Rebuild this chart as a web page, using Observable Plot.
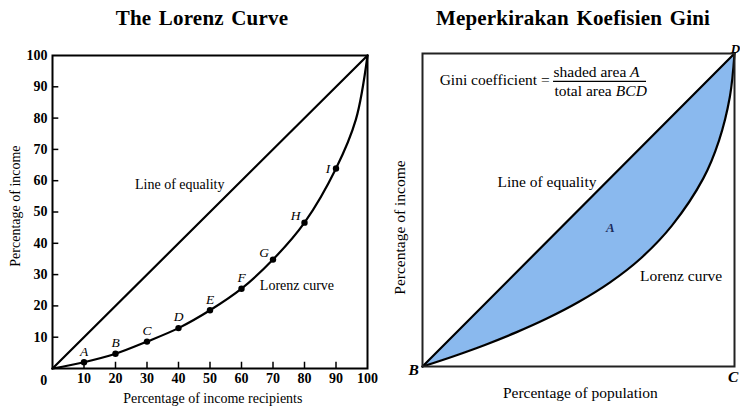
<!DOCTYPE html>
<html><head><meta charset="utf-8">
<script src="https://cdn.jsdelivr.net/npm/d3@7"></script>
<script src="https://cdn.jsdelivr.net/npm/@observablehq/plot@0.6"></script>
<style>
body{margin:0;background:#fff;}
#wrap{position:relative;width:740px;height:408px;overflow:hidden;background:#fff;font-family:"Liberation Serif",serif;}
.title{position:absolute;top:6px;font-weight:bold;font-size:21px;line-height:24px;white-space:nowrap;transform:translateX(-50%);color:#000;letter-spacing:0.2px;word-spacing:2px;}
.panel{position:absolute;top:0;}
</style></head><body>
<div id="wrap">
 <div id="left" class="panel" style="left:0"></div>
 <div id="right" class="panel" style="left:380px"></div>
 <div class="title" style="left:202px">The Lorenz Curve</div>
 <div class="title" style="left:573px">Meperkirakan Koefisien Gini</div>
</div>
<script>
// ---- data ----
const pointLabels = ["A","B","C","D","E","F","G","H","I"];
const pctRecipients = [10,20,30,40,50,60,70,80,90];
const pctIncome = [2.0,4.7,8.6,12.9,18.6,25.5,34.8,46.6,63.9];
const lorenzCurveX = [0,10,20,30,40,50,60,70,80,90,96.3,100];
const lorenzCurveY = [0,2.0,4.7,8.6,12.9,18.6,25.5,34.8,46.6,63.9,79.5,100];
const equalityX = [0,100];
const equalityY = [0,100];
const xTickValues = [10,20,30,40,50,60,70,80,90,100];
const yTickValues = [10,20,30,40,50,60,70,80,90,100];
const giniPopulation = [0,10,20,30,40,50,60,70,80,90,95,98.5,100];
const giniIncome = [0,3.3,6.9,10.9,15.4,20.6,26.8,34.6,45.1,60.1,72.1,86.1,100];

// ---- tables ----
const pts = pctRecipients.map((x,i)=>({x, y:pctIncome[i], label:pointLabels[i]}));
const curve = lorenzCurveX.map((x,i)=>({x, y:lorenzCurveY[i]}));
const eq = equalityX.map((x,i)=>({x, y:equalityY[i]}));
const gini = giniPopulation.map((x,i)=>({x, y:giniIncome[i]}));

const font = "Liberation Serif";

const left = Plot.plot({
  width: 380, height: 408,
  marginLeft: 52, marginRight: 13, marginTop: 55, marginBottom: 40,
  x: {domain:[0,100]}, y: {domain:[0,100]},
  style: {fontFamily: font, fontSize: "14px", background: "transparent", color: "#000", overflow: "visible"},
  marks: [
    Plot.ruleX(xTickValues.filter(v=>v<100), {x: d=>d, y1: 0, y2: 2, strokeWidth: 1.5}),
    Plot.ruleY(yTickValues.filter(v=>v<100), {y: d=>d, x1: 0, x2: 2, strokeWidth: 1.5}),
    Plot.line(eq, {x:"x", y:"y", strokeWidth: 2.2}),
    Plot.line(curve, {x:"x", y:"y", curve:"catmull-rom", strokeWidth: 2.2}),
    Plot.dot(pts, {x:"x", y:"y", r: 3.2, fill:"#000"}),
    Plot.text(pts, {filter:(d,i)=>i<6, x:"x", y:"y", text:"label", dy:-11, fontStyle:"italic", fontSize:13.5}),
    Plot.text(pts, {filter:(d,i)=>i>=6 && i<8, x:"x", y:"y", text:"label", dx:-9, dy:-7, fontStyle:"italic", fontSize:13.5}),
    Plot.text(pts, {filter:(d,i)=>i===8, x:"x", y:"y", text:"label", dx:-8, dy:0, fontStyle:"italic", fontSize:13.5}),
    Plot.frame({strokeWidth: 2}),
    Plot.axisX({ticks: xTickValues, tickSize: 0, tickPadding: 5, fontWeight: "bold", label: null}),
    Plot.axisY({ticks: yTickValues, tickSize: 0, tickPadding: 5, fontWeight: "bold", label: null}),
    Plot.text(["0"], {x: -2.8, y: -3.8, fontWeight: "bold"}),
    Plot.text(["Line of equality"], {x: 40.4, y: 58.7}),
    Plot.text(["Lorenz curve"], {x: 77.6, y: 26.6}),
    Plot.text(["Percentage of income recipients"], {x: 50.9, y: -9.5}),
    Plot.text(["Percentage of income"], {x: -11.7, y: 51.9, rotate: -90})
  ]
});
document.getElementById("left").append(left);

const right = Plot.plot({
  width: 360, height: 408,
  marginLeft: 42, marginRight: 6, marginTop: 53, marginBottom: 42,
  x: {domain:[0,100], axis: null}, y: {domain:[0,100], axis: null},
  style: {fontFamily: font, fontSize: "15.5px", background: "transparent", color: "#000", overflow: "visible"},
  marks: [
    Plot.areaY(gini, {x:"x", y1:"y", y2:"x", curve:"catmull-rom", fill:"#8ab9ee"}),
    Plot.line(eq, {x:"x", y:"y", strokeWidth: 2.2}),
    Plot.line(gini, {x:"x", y:"y", curve:"catmull-rom", strokeWidth: 2.2}),
    Plot.frame({strokeWidth: 2, stroke: "#222"}),
    Plot.text(["Gini coefficient ="], {x: 5.5, y: 91.5, textAnchor: "start"}),
    Plot.text(["shaded area"], {x: 42.0, y: 94.0, textAnchor: "start"}),
    Plot.text(["A"], {x: 66.5, y: 94.0, textAnchor: "start", fontStyle: "italic"}),
    Plot.ruleY([91.1], {x1: 42.0, x2: 71.8, strokeWidth: 1.2}),
    Plot.text(["total area"], {x: 42.3, y: 88.0, textAnchor: "start"}),
    Plot.text(["BCD"], {x: 71.9, y: 88.0, textAnchor: "end", fontStyle: "italic"}),
    Plot.text(["Line of equality"], {x: 39.9, y: 58.9}),
    Plot.text(["A"], {x: 60.2, y: 44.4, fontStyle: "italic", fontWeight: "bold", fill: "#1c2c5c", fontSize: 13}),
    Plot.text(["Lorenz curve"], {x: 82.9, y: 29.0}),
    Plot.text(["Percentage of population"], {x: 50.6, y: -8.6}),
    Plot.text(["Percentage of income"], {x: -7.3, y: 44.4, rotate: -90}),
    Plot.text(["B"], {x: -2.8, y: -1.2, fontStyle: "italic", fontWeight: "bold"}),
    Plot.text(["C"], {x: 99.6, y: -3.3, fontStyle: "italic", fontWeight: "bold"}),
    Plot.text(["D"], {x: 101.8, y: 101.6, textAnchor: "end", fontStyle: "italic", fontWeight: "bold", fontSize: 13})
  ]
});
document.getElementById("right").append(right);
</script>
</body></html>
